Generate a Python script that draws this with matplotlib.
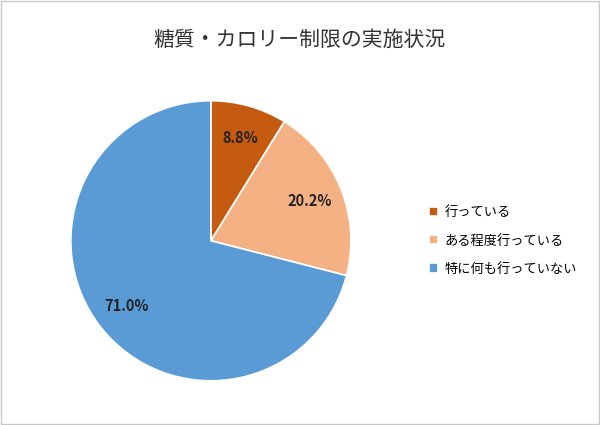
import matplotlib
matplotlib.use("Agg")
import matplotlib.pyplot as plt
from matplotlib.patches import Rectangle

plt.rcParams['font.family'] = ['Noto Sans CJK JP', 'DejaVu Sans']

labels = ["行っている", "ある程度行っている", "特に何も行っていない"]
values = [8.8, 20.2, 71.0]
colors = ["#C55A11", "#F4B183", "#5B9BD5"]

fig = plt.figure(figsize=(6, 4.25), dpi=100)
ax = fig.add_axes([0.118, 0.104, 0.467, 0.659])
wedges, texts, autotexts = ax.pie(
    values, colors=colors, startangle=90, counterclock=False,
    autopct="%.1f%%", pctdistance=0.76,
    wedgeprops=dict(edgecolor="white", linewidth=1.2),
    textprops=dict(fontsize=10.5, fontweight="bold", color="#222222"))
ax.set_aspect("equal")
ax.set_xlim(-1, 1)
ax.set_ylim(-1, 1)

fig.text(0.5, 0.905, "糖質・カロリー制限の実施状況", ha="center", va="center",
         fontsize=15, color="#333333")
fig.legend(wedges, labels, loc="center left", bbox_to_anchor=(0.695, 0.433),
           frameon=False, fontsize=9.5, handlelength=0.7, handleheight=0.7,
           labelspacing=1.15, handletextpad=0.5)
fig.patches.append(Rectangle((0.002, 0.003), 0.996, 0.994, transform=fig.transFigure,
                             fill=False, edgecolor="#C8C8C8", linewidth=1))
fig.savefig("out.png", dpi=100)
